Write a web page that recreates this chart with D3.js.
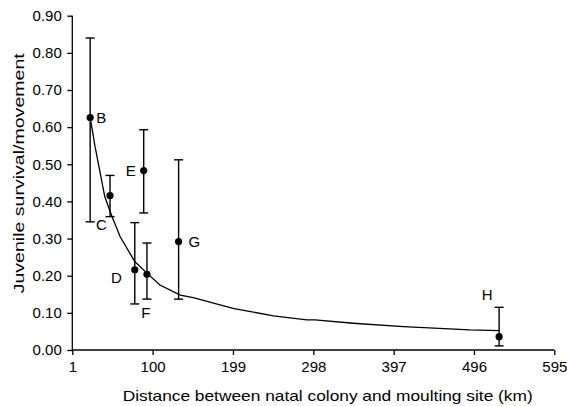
<!DOCTYPE html>
<html><head><meta charset="utf-8">
<script src="https://cdn.jsdelivr.net/npm/d3@7"></script>
<style>body{margin:0;background:#fff}svg{display:block}text{font-family:Arial,"Liberation Sans",sans-serif;fill:#000}</style>
</head><body><svg id="c" width="567" height="406"></svg>
<script>
const labels   = ["B","C","D","E","F","G","H"];
const distance = [23, 47.5, 78, 89, 93, 132, 527];
const estimate = [0.626, 0.416, 0.216, 0.483, 0.204, 0.292, 0.036];
const lower    = [0.345, 0.359, 0.124, 0.369, 0.137, 0.137, 0.011];
const upper    = [0.840, 0.470, 0.343, 0.593, 0.288, 0.512, 0.115];
const curveX   = [23, 29, 41, 50, 60, 78, 93, 109, 134, 150, 199, 249, 290, 300, 347, 409, 491, 527];
const curveY   = [0.626, 0.548, 0.413, 0.359, 0.305, 0.238, 0.207, 0.175, 0.148, 0.141, 0.112, 0.092, 0.081, 0.081, 0.072, 0.063, 0.054, 0.052];
const xTicks   = [1, 100, 199, 298, 397, 496, 595];
const yTicks   = [0, 0.1, 0.2, 0.3, 0.4, 0.5, 0.6, 0.7, 0.8, 0.9];

// label placement (dx, dy, anchor) relative to each point
const labelPos = {
  B:{dx:6, dy:0, a:"start"}, C:{dx:-14, dy:29, a:"start"}, D:{dx:-13, dy:8, a:"end"},
  E:{dx:-8, dy:0, a:"end"}, F:{dx:-1, dy:38, a:"middle"}, G:{dx:10, dy:0, a:"start"},
  H:{dx:-12, dy:-42, a:"middle"}
};

const FS = 15;
const svg = d3.select("#c");
const x = d3.scaleLinear().domain([1, 595]).range([72.3, 554.3]);
const y = d3.scaleLinear().domain([0, 0.9]).range([350, 15.7]);

const xAxis = svg.append("g").attr("transform","translate(0,350)")
  .call(d3.axisBottom(x).tickValues(xTicks).tickFormat(d3.format("d")).tickSize(5).tickPadding(6.5));
const yAxis = svg.append("g").attr("transform","translate(72.3,0)")
  .call(d3.axisLeft(y).tickValues(yTicks).tickFormat(d3.format(".2f")).tickSize(5).tickPadding(5.5));
[xAxis, yAxis].forEach(g => {
  g.select(".domain").attr("stroke","#000").attr("stroke-width",1.3);
  g.selectAll(".tick line").attr("stroke","#000").attr("stroke-width",1.3);
  g.selectAll(".tick text").attr("font-size",FS).attr("font-family","Arial, 'Liberation Sans', sans-serif").attr("fill","#000");
});
xAxis.select(".domain").attr("d", `M${x(1)},0H${x(595)}`);
yAxis.select(".domain").attr("d", `M0,${y(0)}V${y(0.9)}`);

// fitted curve
const pts = curveX.map((d,i)=>[d, curveY[i]]);
svg.append("path").attr("d", d3.line().x(d=>x(d[0])).y(d=>y(d[1]))(pts))
  .attr("fill","none").attr("stroke","#000").attr("stroke-width",1.3);

// error bars
const g = svg.append("g");
const data = labels.map((l,i)=>({l, x:distance[i], v:estimate[i], lo:lower[i], hi:upper[i]}));
const cap = 4.5;
data.forEach(d => {
  const cx = x(d.x);
  g.append("line").attr("x1",cx).attr("x2",cx).attr("y1",y(d.lo)).attr("y2",y(d.hi)).attr("stroke","#000").attr("stroke-width",1.4);
  [d.lo, d.hi].forEach(e => g.append("line").attr("x1",cx-cap).attr("x2",cx+cap).attr("y1",y(e)).attr("y2",y(e)).attr("stroke","#000").attr("stroke-width",1.4));
  g.append("circle").attr("cx",cx).attr("cy",y(d.v)).attr("r",3.6).attr("fill","#000");
  const p = labelPos[d.l];
  g.append("text").attr("x",cx+p.dx).attr("y",y(d.v)+p.dy).attr("dy","0.36em")
    .attr("text-anchor",p.a).attr("font-size",FS).text(d.l);
});

svg.append("text").attr("x", 122.7).attr("y", 400.5)
  .attr("font-size",14.5).attr("textLength",410).attr("lengthAdjust","spacingAndGlyphs")
  .text("Distance between natal colony and moulting site (km)");
svg.append("text").attr("transform", `translate(24,293.3) rotate(-90)`)
  .attr("font-size",14.5).attr("textLength",240).attr("lengthAdjust","spacingAndGlyphs")
  .text("Juvenile survival/movement");
</script></body></html>
